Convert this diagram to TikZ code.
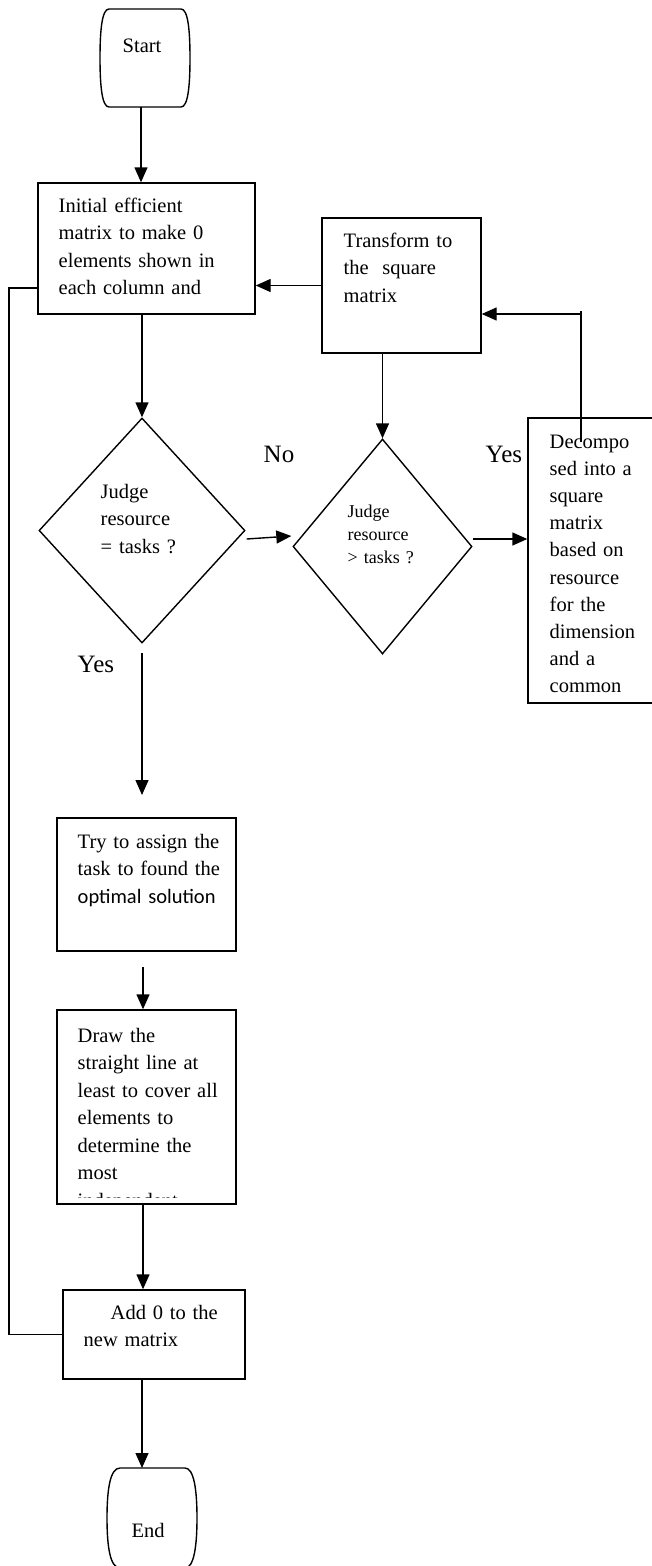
\documentclass[tikz,border=0pt]{standalone}
\usepackage{fontspec}
\setmainfont{Liberation Serif}
\newfontfamily\calib{Carlito}
\usetikzlibrary{shapes.geometric,arrows.meta,calc}
\begin{document}
\begin{tikzpicture}[x=1pt,y=-1pt,
  line width=1.4pt,
  arr/.style={-{Triangle[length=15pt,width=13pt]}},
  box/.style={draw,rectangle,inner sep=0pt},
  dia/.style={draw,diamond,inner sep=0pt},
  txt/.style={anchor=base west,inner sep=0pt,text width=#1,align=left,font=\fontsize{20.5}{27.5}\selectfont},
  txt/.default=200pt,
  smalltxt/.style={anchor=base west,inner sep=0pt,text width=120pt,align=left,font=\fontsize{18}{23}\selectfont},
  lbl/.style={anchor=base west,inner sep=0pt,font=\fontsize{25}{30}\selectfont},
  wtxt/.style={anchor=base west,inner sep=0pt,font=\fontsize{20.5}{27.5}\selectfont},
]
\useasboundingbox (0,0) rectangle (652,1566);
\clip (0,0) rectangle (652,1566);

% terminals
\draw (109,9) -- (181,9) .. controls (188,9) and (190,30) .. (190,58) .. controls (190,86) and (188,107) .. (181,107) -- (109,107) .. controls (102,107) and (100,86) .. (100,58) .. controls (100,30) and (102,9) .. (109,9) -- cycle;
\node[wtxt] (tstart) at (122,52) {Start};
\coordinate (sbot) at (141,107);

\draw (120,1468) -- (185,1468) .. controls (194,1468) and (197,1490) .. (197,1518) .. controls (197,1546) and (194,1568) .. (185,1568) -- (120,1568) .. controls (110,1568) and (107,1546) .. (107,1518) .. controls (107,1490) and (110,1468) .. (120,1468) -- cycle;
\node[wtxt] (tend) at (131,1537) {End};
\coordinate (etop) at (142,1468);

% boxes
\node[box,minimum width=217pt,minimum height=131pt] (box1) at (146.5,248.5) {};
\node[txt] (tbox1) at (58,212) {Initial efficient\\matrix to make 0\\elements shown in\\each column and};

\node[box,minimum width=159pt,minimum height=135pt] (trans) at (401.5,285.5) {};
\node[txt] (ttrans) at (343,247) {Transform to\\the\ \ square\\matrix};

\node[dia,minimum width=206pt,minimum height=225pt] (d1) at (142,530.5) {};
\node[txt=120pt] (td1) at (100,498) {Judge\\resource\\= tasks ?};

\node[dia,minimum width=179pt,minimum height=215pt] (d2) at (382.5,546.5) {};
\node[smalltxt] (td2) at (347,517) {Judge\\resource\\> tasks ?};

\node[box,minimum width=192pt,minimum height=285pt] (dec) at (624,560.5) {};
\node[txt=100pt,font=\fontsize{20.5}{27.2}\selectfont] (tdec) at (549,448) {Decompo\\sed into a\\square\\matrix\\based on\\resource\\for the\\dimension\\and a\\common};

\node[box,minimum width=179pt,minimum height=133pt] (try) at (146.5,884.5) {};
\node[txt] (ttry) at (77,848) {Try to assign the\\task to found the\\{\calib optimal solution}};

\node[box,minimum width=179pt,minimum height=194pt] (drw) at (146.5,1107) {};
\begin{scope}
\clip (57,1010) rectangle (236,1197);
\node[txt] (tdrw) at (77,1042) {Draw the\\straight line at\\least to cover all\\elements to\\determine the\\most\\independent};
\end{scope}

\node[box,minimum width=182pt,minimum height=89pt] (add) at (154,1334.5) {};
\node[txt] (tadd) at (83,1319) {\hspace*{27pt}Add 0 to the\\new matrix};

% labels
\node[lbl] (lno) at (263,462) {No};
\node[lbl] (lyes1) at (485,462) {Yes};
\node[lbl] (lyes2) at (77,672) {Yes};

% connectors
\draw[arr] (sbot) -- (sbot |- box1.north);
\draw[arr] (d1.north |- box1.south) -- (d1.north);
\draw[arr] (trans.west) -- (box1.east |- trans.west);
\draw[arr] (trans.south -| d2.north) -- (d2.north);
\draw[arr] ($(d1.east)+(1,8.5)$) -- ($(d2.west)+(-1,-10.5)$);
\draw[arr] ($(d2.east)+(0,-7.5)$) -- (dec.west |- {$(d2.east)+(0,-7.5)$});

\coordinate (fbin) at (581,442);
\coordinate (fbtop) at (581,311);
\coordinate (fbcorner) at (581,314);
\draw (fbin) -- (fbtop);
\draw[arr] (fbcorner) -- (fbcorner -| trans.east);

\coordinate (ys) at (142,653);
\coordinate (ye) at (142,795);
\draw[arr] (ys) -- (ye);

\coordinate (ts) at (143,967);
\draw[arr] (ts) -- (ts |- drw.north);

\draw[arr] (drw.south -| ts) -- (add.north -| ts);

\draw[arr] (etop |- add.south) -- (etop);

\coordinate (lf) at (9,288);
\draw (add.west) -| (lf) -- (lf -| box1.west);
\end{tikzpicture}
\end{document}
